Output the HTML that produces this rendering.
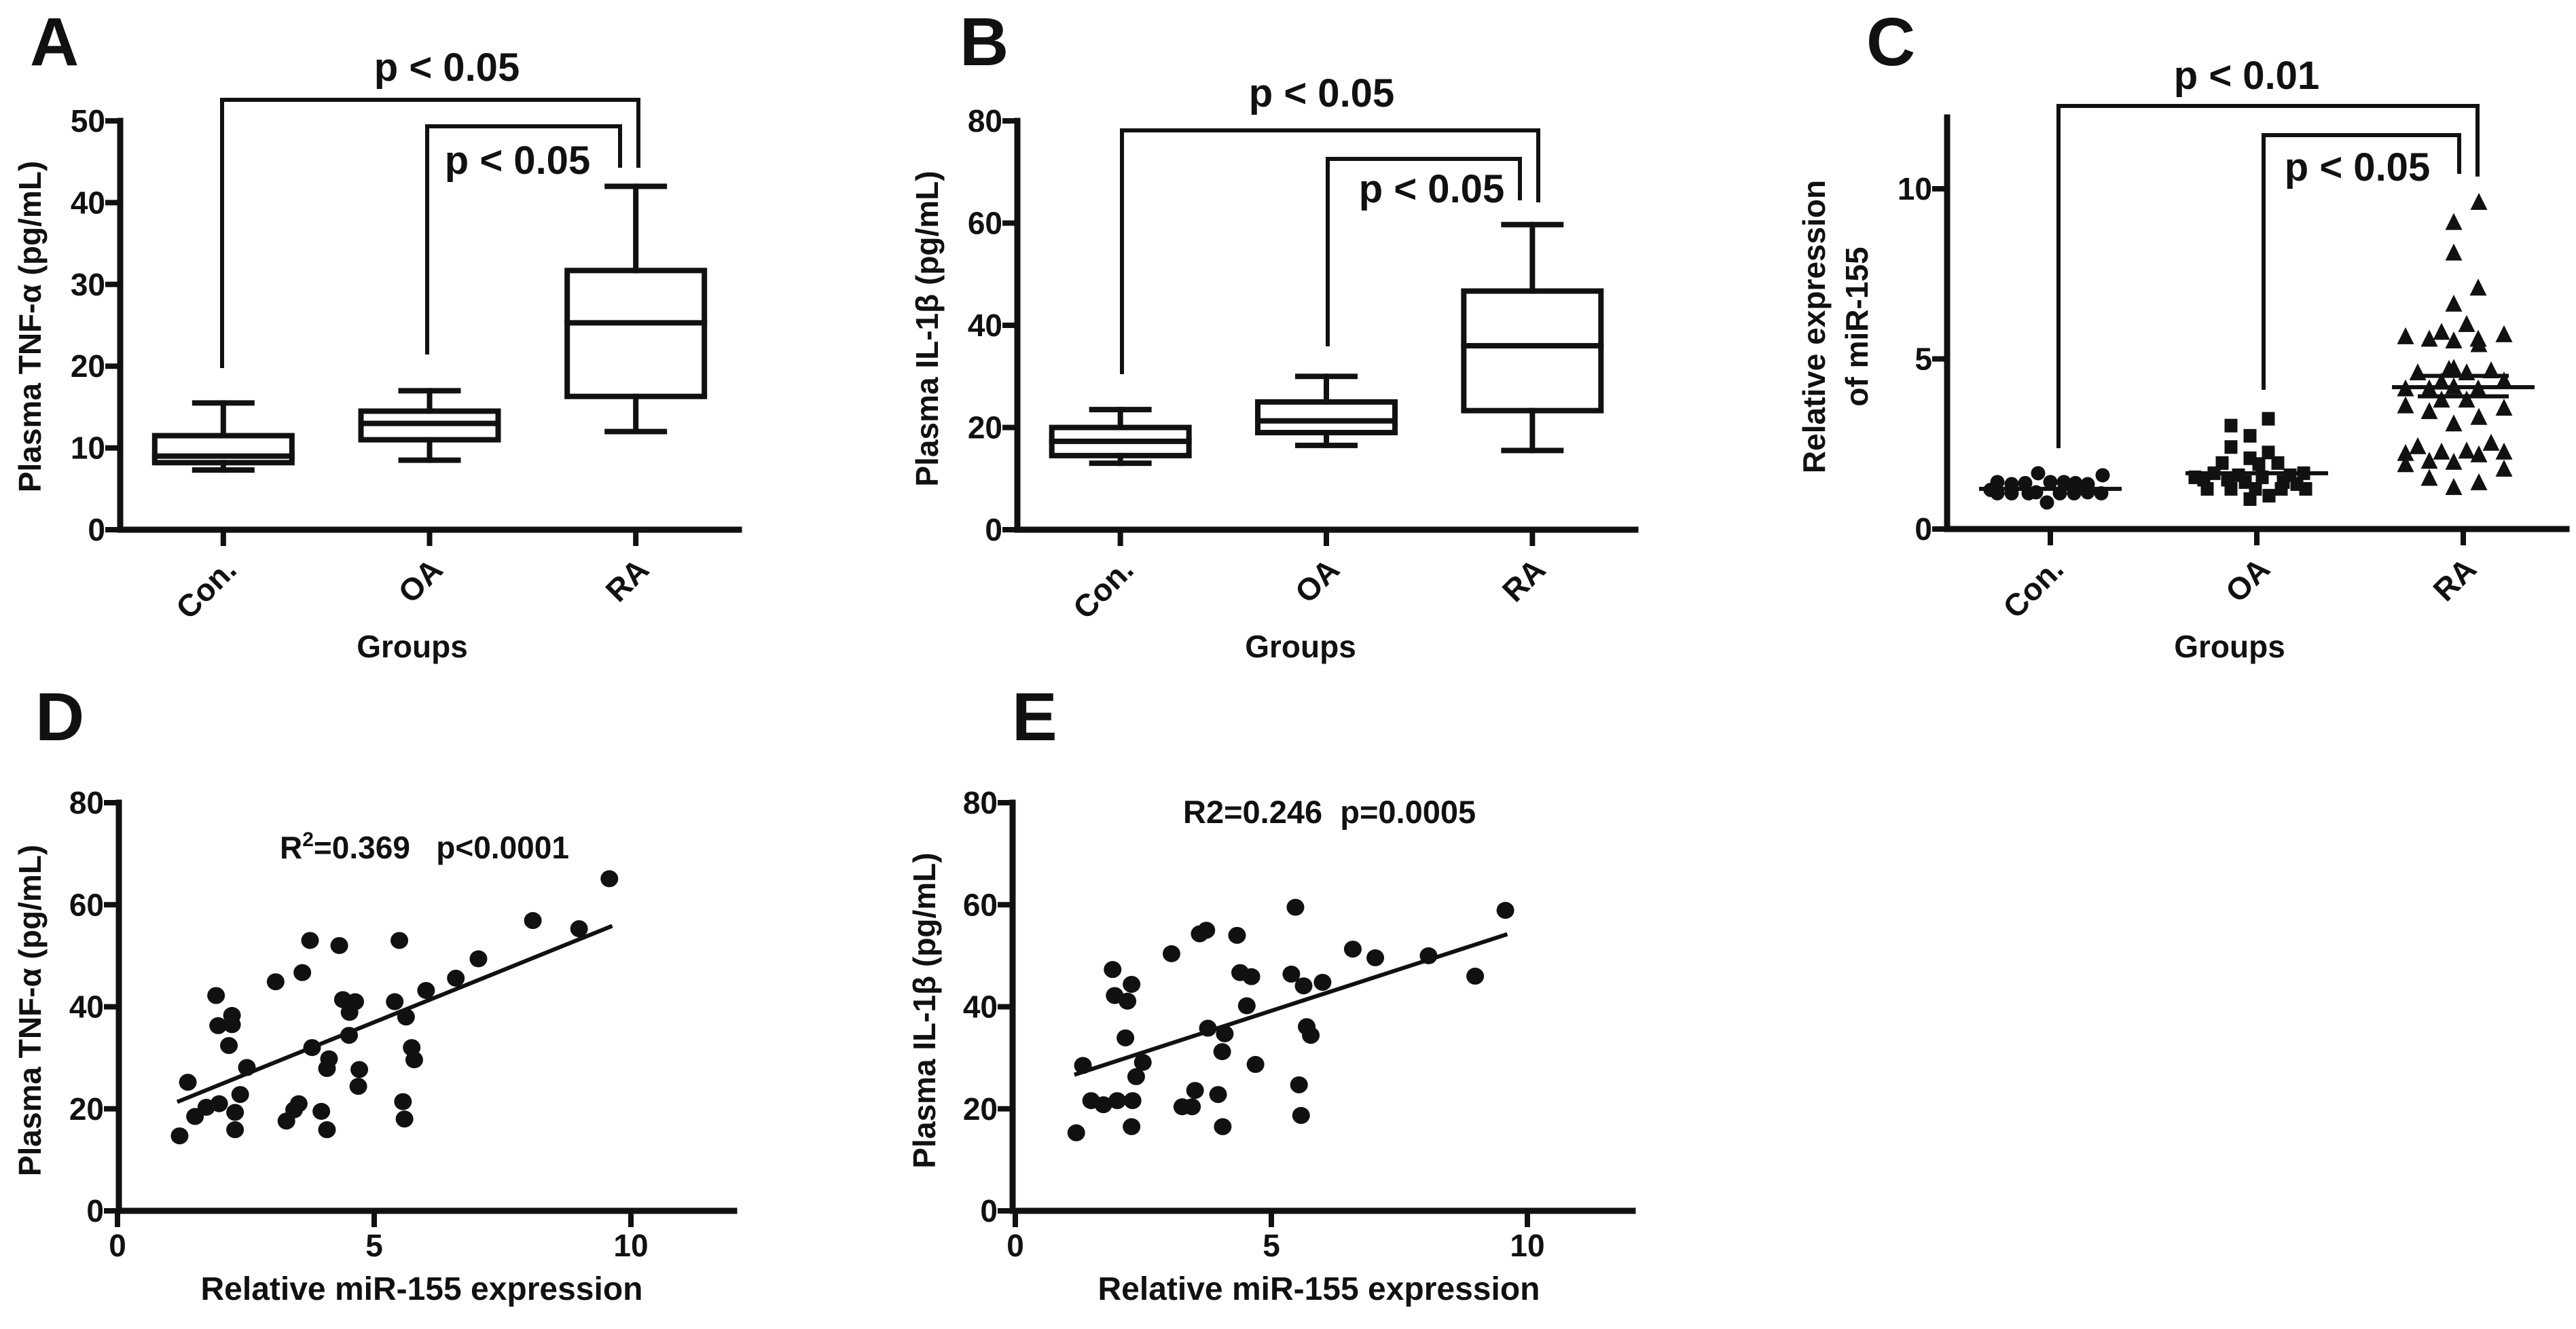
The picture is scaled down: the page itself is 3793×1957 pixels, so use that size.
<!DOCTYPE html>
<html><head><meta charset="utf-8"><style>
html,body{margin:0;padding:0;background:#fff;}
svg{display:block;}
text{font-family:"Liberation Sans",Arial,sans-serif;font-weight:bold;fill:#111;white-space:pre;}
</style></head><body>
<svg id="fig" xmlns="http://www.w3.org/2000/svg" width="3793" height="1957" viewBox="0 0 3793 1957" xml:space="preserve">
<rect x="0" y="0" width="3793" height="1957" fill="#fff"/>
</svg>
<script>
// ---------- data ----------
const groupCats = ['Con.', 'OA', 'RA'];
// Panel A: TNF-alpha box plots
const aMin = [7.3, 8.5, 12];
const aQ1 = [8.2, 11, 16.3];
const aMed = [9, 13, 25.3];
const aQ3 = [11.5, 14.5, 31.7];
const aMax = [15.5, 17, 42];
const aTicks = [0, 10, 20, 30, 40, 50];
// Panel B: IL-1beta box plots
const bMin = [13, 16.5, 15.5];
const bQ1 = [14.5, 19, 23.3];
const bMed = [17.3, 21.3, 36];
const bQ3 = [20, 25, 46.7];
const bMax = [23.5, 30, 59.7];
const bTicks = [0, 20, 40, 60, 80];
// Panel C: scatter of miR-155 expression
const cTicks = [0, 5, 10];
const conVals = [1.64,1.58,1.38,1.32,1.35,1.38,1.38,1.35,1.32,1.05,1.05,1.05,1.05,1.05,1.08,1.05,0.78,1.08,1.15];
const conJit = [-18,77,-78,-57,-37,0,20,37,55,-78,-57,-32,14,35,55,75,-5,-21,-88];
const oaVals = [3.04,3.24,2.74,2.41,2.25,1.94,2.08,1.94,1.91,1.52,1.18,1.18,1.18,1.18,1.18,1.64,1.58,1.52,1.58,1.64,0.88,0.98,1.45,1.45,1.38,1.32,1.38];
const oaJit = [-38,17,-10,-38,17,-51,-10,31,3,-91,-73,-38,-2,36,72,-63,-27,8,49,69,-10,18,-78,-43,39,59,-17];
const raVals = [9.62,9.03,8.13,7.1,6.63,6.03,5.67,5.6,5.8,5.55,5.6,5.44,5.73,4.61,4.71,4.74,4.61,4.67,4.34,4.37,4.14,4.14,4.2,4.14,3.81,3.81,3.64,3.47,3.57,3.3,3.11,2.44,2.54,2.28,2.31,2.24,2.2,2.28,2.01,1.98,1.91,1.78,1.51,1.38,1.24];
const raJit = [23,-14,-14,22,-14,5,-85,-50,-32,-14,22,23,60,-67,-21,-14,5,41,-32,60,-85,-50,-14,22,-32,5,-85,-50,60,23,-14,-67,41,-32,5,-85,23,60,-50,-14,-85,60,-50,23,-14];
const cMeans = [1.18, 1.64, 4.17];
const cSemHi = [null, null, 4.5];
const cSemLo = [null, null, 3.9];
// Panel D: TNF vs miR-155
const dX = [1.21,1.37,1.51,1.73,1.98,1.92,1.96,2.23,2.23,2.17,2.29,2.29,2.39,2.52,3.08,3.29,3.44,3.53,3.6,3.75,3.79,3.97,4.08,4.08,4.12,4.32,4.39,4.52,4.51,4.63,4.69,4.71,5.4,5.49,5.56,5.59,5.62,5.73,5.78,6.01,6.59,7.03,8.09,8.99,9.58];
const dY = [14.7,25.2,18.5,20.3,21,42.2,36.3,38.3,36.5,32.4,19.3,15.9,22.8,28.1,44.9,17.6,19.8,21,46.7,53,32,19.5,15.9,27.9,29.8,52,41.4,38.9,34.4,41,24.4,27.7,41,53,21.4,18,38,32,29.6,43.2,45.6,49.4,56.9,55.3,65.1];
const dFitX = [1.2, 9.6];
const dFitY = [21.5, 55.7];
// Panel E: IL-1beta vs miR-155
const eX = [1.19,1.32,1.48,1.72,1.99,1.9,1.94,2.19,2.27,2.15,2.29,2.27,2.36,2.49,3.05,3.26,3.45,3.51,3.6,3.73,3.76,3.96,4.04,4.09,4.05,4.33,4.39,4.61,4.52,4.69,5.39,5.47,5.54,5.58,5.63,5.69,5.77,6.0,6.59,7.03,8.07,8.98,9.57];
const eY = [15.3,28.5,21.6,20.8,21.6,47.3,42.2,41.1,44.4,33.9,21.6,16.5,26.3,29.1,50.4,20.4,20.4,23.6,54.3,55,35.8,22.8,31.2,34.7,16.5,54,46.7,45.9,40.2,28.7,46.4,59.5,24.7,18.7,44.1,36.1,34.4,44.8,51.3,49.6,50,46,58.9];
const eFitX = [1.19, 9.57];
const eFitY = [26.8, 54.1];
const xyTicks = [0, 20, 40, 60, 80];
const xTicksDE = [0, 5, 10];

// ---------- helpers ----------
const NS = 'http://www.w3.org/2000/svg';
const svg = document.getElementById('fig');
function mk(tag, attrs, parent) {
  const el = document.createElementNS(NS, tag);
  for (const k in attrs) el.setAttribute(k, attrs[k]);
  (parent || svg).appendChild(el);
  return el;
}
function ln(x1, y1, x2, y2, w, name) {
  const el = mk('line', {x1: x1, y1: y1, x2: x2, y2: y2, stroke: '#111', 'stroke-width': w, 'stroke-linecap': 'square'});
  
  
  return el;
}
function tx(x, y, s, size, anchor, name, rot) {
  const el = mk('text', {x: x, y: y, 'font-size': size, 'text-anchor': anchor || 'start'});
  if (rot !== undefined) el.setAttribute('transform', 'rotate(' + rot + ' ' + x + ' ' + y + ')');
  el.textContent = s;
  
  
  return el;
}
function bracket(xl, xr, yTop, yl, yr, name) {
  const p = mk('path', {d: 'M' + xl + ' ' + yl + ' V' + yTop + ' H' + xr + ' V' + yr, fill: 'none', stroke: '#111', 'stroke-width': 6});
  
  
}

// ---------- category panels ----------
function catPanel(o) {
  const ys = v => o.y0 - (v / o.yMax) * (o.y0 - o.yTop);
  const step = (o.xEnd - o.ax) / 3;
  const cx = i => o.ax + step * (i + 0.5);
  ln(o.ax, o.yTop, o.ax, o.y0, 9, o.p + '-y-axis');
  ln(o.ax, o.y0, o.xEnd, o.y0, 9, o.p + '-x-axis');
  o.ticks.forEach(t => {
    ln(o.ax - 18, ys(t), o.ax, ys(t), 8, o.p + '-y-tick');
    tx(o.ax - 22, ys(t) + 16, String(t), 46, 'end', o.p + '-y-tick-label');
  });
  groupCats.forEach((c, i) => {
    ln(cx(i), o.y0, cx(i), o.y0 + 20, 8, o.p + '-x-tick');
    tx(cx(i) + 22, o.y0 + 62, c, 46, 'end', o.p + '-x-tick-label', -45);
  });
  tx(o.groupsX, 968, 'Groups', 46, 'middle', o.p + '-x-axis-title');
  return {ys: ys, cx: cx};
}
function boxes(p, s, mn, q1, md, q3, mx) {
  groupCats.forEach((c, i) => {
    const x = s.cx(i);
    const r = mk('rect', {x: x - 101, y: s.ys(q3[i]), width: 202, height: s.ys(q1[i]) - s.ys(q3[i]), fill: 'none', stroke: '#111', 'stroke-width': 8});
    
    
    ln(x - 101, s.ys(md[i]), x + 101, s.ys(md[i]), 8, p + '-median');
    ln(x, s.ys(q3[i]), x, s.ys(mx[i]), 8, p + '-whisker-upper');
    ln(x, s.ys(q1[i]), x, s.ys(mn[i]), 8, p + '-whisker-lower');
    ln(x - 42, s.ys(mx[i]), x + 42, s.ys(mx[i]), 8, p + '-whisker-cap');
    ln(x - 42, s.ys(mn[i]), x + 42, s.ys(mn[i]), 8, p + '-whisker-cap');
  });
}

// Panel A
tx(44, 96, 'A', 100, 'start', 'panel-a-label');
const sA = catPanel({p: 'a', ax: 177, xEnd: 1088, y0: 780, yTop: 178, yMax: 50, ticks: aTicks, groupsX: 607});
boxes('a', sA, aMin, aQ1, aMed, aQ3, aMax);
tx(60, 481, 'Plasma TNF-\u03b1 (pg/mL)', 46, 'middle', 'a-y-axis-title', -90);
bracket(327, 940, 147, 542, 247, 'a-bracket-con-ra');
bracket(629, 913, 186, 522, 247, 'a-bracket-oa-ra');
tx(658, 119, 'p < 0.05', 58, 'middle', 'a-pvalue-con-ra');
tx(762, 256, 'p < 0.05', 58, 'middle', 'a-pvalue-oa-ra');

// Panel B
tx(1413, 96, 'B', 100, 'start', 'panel-b-label');
const sB = catPanel({p: 'b', ax: 1498, xEnd: 2408, y0: 780, yTop: 178, yMax: 80, ticks: bTicks, groupsX: 1915});
boxes('b', sB, bMin, bQ1, bMed, bQ3, bMax);
tx(1381, 484, 'Plasma IL-1\u03b2 (pg/mL)', 46, 'middle', 'b-y-axis-title', -90);
bracket(1652, 2265, 192, 551, 298, 'b-bracket-con-ra');
bracket(1955, 2238, 234, 510, 295, 'b-bracket-oa-ra');
tx(1946, 157, 'p < 0.05', 58, 'middle', 'b-pvalue-con-ra');
tx(2108, 298, 'p < 0.05', 58, 'middle', 'b-pvalue-oa-ra');

// Panel C
tx(2748, 96, 'C', 100, 'start', 'panel-c-label');
const sC = catPanel({p: 'c', ax: 2867, xEnd: 3779, y0: 779, yTop: 278, yMax: 10, ticks: cTicks, groupsX: 3283});
ln(2867, 173, 2867, 779, 9, 'c-y-axis-top');
tx(2687, 481, 'Relative expression', 46, 'middle', 'c-y-axis-title-line1', -90);
tx(2750, 481, 'of miR-155', 46, 'middle', 'c-y-axis-title-line2', -90);
bracket(3031, 3648, 156, 660, 260, 'c-bracket-con-ra');
bracket(3333, 3621, 199, 574, 256, 'c-bracket-oa-ra');
tx(3308, 131, 'p < 0.01', 58, 'middle', 'c-pvalue-con-ra');
tx(3471, 266, 'p < 0.05', 58, 'middle', 'c-pvalue-oa-ra');
conVals.forEach((v, i) => {
  const c = mk('circle', {cx: sC.cx(0) + conJit[i], cy: sC.ys(v), r: 10.5, fill: '#111'});
  
  
});
oaVals.forEach((v, i) => {
  const r = mk('rect', {x: sC.cx(1) + oaJit[i] - 9.5, y: sC.ys(v) - 10, width: 19, height: 20, fill: '#111'});
  
  
});
raVals.forEach((v, i) => {
  const x = sC.cx(2) + raJit[i], y = sC.ys(v);
  const t = mk('polygon', {points: (x) + ',' + (y - 13) + ' ' + (x - 12.5) + ',' + (y + 12) + ' ' + (x + 12.5) + ',' + (y + 12), fill: '#111'});
  
  
});
cMeans.forEach((m, i) => {
  ln(sC.cx(i) - 102, sC.ys(m), sC.cx(i) + 102, sC.ys(m), 6, 'c-mean-line');
  if (cSemHi[i] !== null) {
    ln(sC.cx(i) - 64, sC.ys(cSemHi[i]), sC.cx(i) + 64, sC.ys(cSemHi[i]), 6, 'c-sem-line');
    ln(sC.cx(i) - 64, sC.ys(cSemLo[i]), sC.cx(i) + 64, sC.ys(cSemLo[i]), 6, 'c-sem-line');
  }
});

// ---------- scatter panels ----------
function scatPanel(o, xs, ys, fx, fy) {
  const X = v => o.x0 + v * o.xu;
  const Y = v => o.y0 - (v / 80) * (o.y0 - o.yTop);
  ln(o.ax, o.yTop, o.ax, o.y0, 9, o.p + '-y-axis');
  ln(o.ax, o.y0, o.xEnd, o.y0, 9, o.p + '-x-axis');
  xyTicks.forEach(t => {
    ln(o.ax - 18, Y(t), o.ax, Y(t), 8, o.p + '-y-tick');
    tx(o.ax - 22, Y(t) + 16, String(t), 46, 'end', o.p + '-y-tick-label');
  });
  xTicksDE.forEach(t => {
    ln(X(t), o.y0, X(t), o.y0 + 20, 8, o.p + '-x-tick');
    tx(X(t), 1850, String(t), 46, 'middle', o.p + '-x-tick-label');
  });
  xs.forEach((v, i) => {
    const c = mk('ellipse', {cx: X(v), cy: Y(ys[i]), rx: 13, ry: 12.5, fill: '#111'});
    
    
  });
  ln(X(fx[0]), Y(fy[0]), X(fx[1]), Y(fy[1]), 6, o.p + '-regression-line');
}
tx(52, 1090, 'D', 100, 'start', 'panel-d-label');
scatPanel({p: 'd', ax: 175, x0: 173, xu: 75.6, xEnd: 1081, y0: 1783, yTop: 1182}, dX, dY, dFitX, dFitY);
tx(60, 1488, 'Plasma TNF-\u03b1 (pg/mL)', 46, 'middle', 'd-y-axis-title', -90);
tx(621, 1914, 'Relative miR-155 expression', 48, 'middle', 'd-x-axis-title');
const dAnn = tx(412, 1264, 'R', 46, 'start', 'd-annotation');
const sup = mk('tspan', {'font-size': 30, dy: -18}, dAnn); sup.textContent = '2';
const rest = mk('tspan', {dy: 18}, dAnn); rest.textContent = '=0.369   p<0.0001';

tx(1490, 1090, 'E', 100, 'start', 'panel-e-label');
scatPanel({p: 'e', ax: 1491, x0: 1495, xu: 75.4, xEnd: 2404, y0: 1783, yTop: 1182}, eX, eY, eFitX, eFitY);
tx(1377, 1488, 'Plasma IL-1\u03b2 (pg/mL)', 46, 'middle', 'e-y-axis-title', -90);
tx(1942, 1914, 'Relative miR-155 expression', 48, 'middle', 'e-x-axis-title');
tx(1742, 1212, 'R2=0.246  p=0.0005', 47, 'start', 'e-annotation');
</script>
</body></html>
